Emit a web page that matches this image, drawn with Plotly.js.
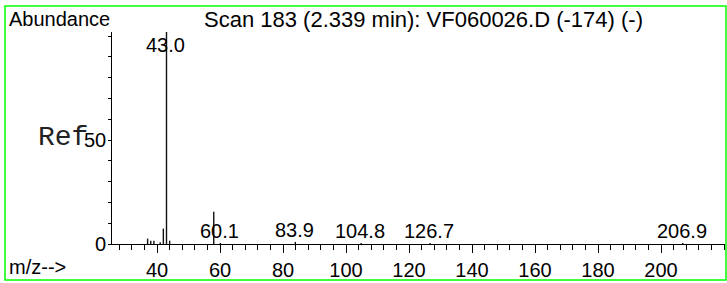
<!DOCTYPE html>
<html>
<head>
<meta charset="utf-8">
<script src="https://cdn.plot.ly/plotly-3.0.1.min.js"></script>
<style>
html,body{margin:0;padding:0;background:#fff;}
#chart{width:727px;height:283px;}
</style>
</head>
<body>
<div id="chart"></div>
<script>
// m/z values of the drawn peaks and their relative abundances
const mz =        [37, 38, 39, 41, 42, 43, 44, 58, 60.1, 83.9, 104.8, 126.7, 206.9];
const abundance = [2.6, 1.6, 1.6, 0.8, 7.4, 102, 1.6, 15.5, 0.5, 1.0, 0.5, 0.5, 0.5];

// labelled peaks
const labelMz =   [43.0, 60.1, 83.9, 104.8, 126.7, 206.9];
const labelText = ['43.0', '60.1', '83.9', '104.8', '126.7', '206.9'];

// axis ticks
const xTickVals = [40, 60, 80, 100, 120, 140, 160, 180, 200];
const xTickText = ['40', '60', '80', '100', '120', '140', '160', '180', '200'];
const yTickVals = [0, 50];
const yTickText = ['0', '50'];

const titleText = 'Scan 183 (2.339 min): VF060026.D (-174) (-)';

// build stick spectrum from arrays
const sx = [], sy = [];
for (let i = 0; i < mz.length; i++) {
  sx.push(mz[i], mz[i], null);
  sy.push(0, abundance[i], null);
}

const FONT = 'Liberation Sans, Arial, sans-serif';
const L = 112, R = 2, T = 32, B = 39;
const W = 727, H = 283;
const pw = W - L - R, ph = H - T - B;
const px = v => (v - L) / pw;          // pixel x -> paper x
const py = v => (H - B - v) / ph;      // pixel y -> paper y

const annotations = [];
for (let i = 0; i < labelMz.length; i++) {
  const idx = mz.indexOf(labelMz[i]);
  const h = idx >= 0 ? abundance[idx] : 0;
  annotations.push({
    x: labelMz[i], y: Math.min(h, 90), xref: 'x', yref: 'y',
    text: labelText[i], showarrow: false, xanchor: 'center', yanchor: 'bottom',
    yshift: -1, xshift: -1, font: {family: FONT, size: 20, color: '#000'}
  });
}
// y tick labels, set close to the axis line
for (let i = 0; i < yTickVals.length; i++) {
  annotations.push({
    xref: 'paper', yref: 'y', x: px(108), y: yTickVals[i], xanchor: 'right', yanchor: 'middle',
    text: yTickText[i], showarrow: false, font: {family: FONT, size: 20, color: '#000'}
  });
}
annotations.push({
  xref: 'paper', yref: 'paper', x: px(7), y: py(19), xanchor: 'left', yanchor: 'middle',
  text: 'Abundance', showarrow: false, font: {family: FONT, size: 20, color: '#000'}
});
annotations.push({
  xref: 'paper', yref: 'paper', x: px(7), y: py(267), xanchor: 'left', yanchor: 'middle',
  text: 'm/z-->', showarrow: false, font: {family: FONT, size: 20, color: '#000'}
});
annotations.push({
  xref: 'paper', yref: 'paper', x: px(36), y: py(137), xanchor: 'left', yanchor: 'middle',
  text: 'Ref', showarrow: false, font: {family: 'Liberation Mono, Courier New, monospace', size: 28, color: '#222'}
});

const trace = {
  x: sx, y: sy, type: 'scatter', mode: 'lines',
  line: {color: '#111', width: 1.4}, hoverinfo: 'skip', connectgaps: false
};

const layout = {
  width: W, height: H,
  margin: {l: L, r: R, t: T, b: B, pad: 0},
  paper_bgcolor: '#fff', plot_bgcolor: '#fff',
  showlegend: false,
  title: {
    text: titleText, xref: 'paper', x: px(204), xanchor: 'left',
    yref: 'container', y: 1 - 19 / H, yanchor: 'middle',
    font: {family: FONT, size: 22, color: '#000'}
  },
  xaxis: {
    range: [25.7, 220.3], showgrid: false, zeroline: false,
    showline: true, linecolor: '#000', linewidth: 1,
    tickmode: 'array', tickvals: xTickVals, ticktext: xTickText,
    ticks: 'outside', ticklen: 8, tickwidth: 1, tickcolor: '#000',
    minor: {dtick: 4, tick0: 0, ticks: 'outside', ticklen: 5, tickwidth: 1, tickcolor: '#000', showgrid: false},
    tickfont: {family: FONT, size: 20, color: '#000'}
  },
  yaxis: {
    range: [0, 102], showgrid: false, zeroline: false,
    showline: true, linecolor: '#000', linewidth: 1,
    tickmode: 'array', tickvals: yTickVals, showticklabels: false,
    ticks: 'outside', ticklen: 3, tickwidth: 1, tickcolor: '#000',
    minor: {dtick: 10, tick0: 0, ticks: 'outside', ticklen: 3, tickwidth: 1, tickcolor: '#000', showgrid: false}
  },
  annotations: annotations,
  shapes: [{
    type: 'rect', xref: 'paper', yref: 'paper',
    x0: px(5), x1: px(726), y0: py(280), y1: py(6),
    line: {color: '#00ff00', width: 1.5}, fillcolor: 'rgba(0,0,0,0)', layer: 'above'
  }]
};

Plotly.newPlot('chart', [trace], layout, {displayModeBar: false, staticPlot: true});
</script>
</body>
</html>
